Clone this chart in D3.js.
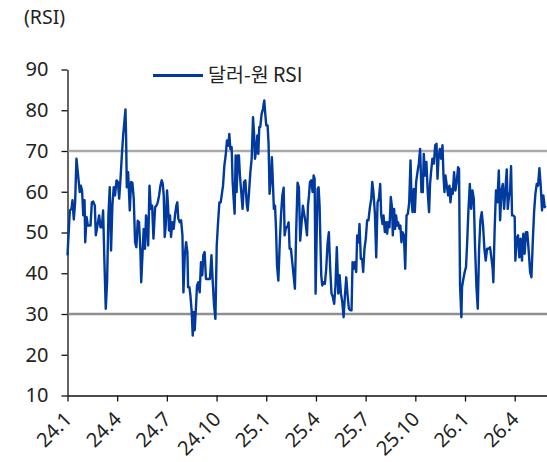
<!DOCTYPE html>
<head>
  <meta charset="utf-8">
  <title>달러-원 RSI</title>
  <script src="https://d3js.org/d3.v7.min.js"></script>
  <style>
    body { margin: 0; background: #fff; }
    svg text { font-family: "Noto Sans", "Noto Sans CJK KR", sans-serif; fill: #222; }
  </style>
</head>
<body>
<svg width="547" height="462"></svg>
<script>
// months since 2024-01, RSI
var month = [
  0, 0.14, 0.24, 0.30, 0.38, 0.46, 0.54, 0.64, 0.74, 0.80, 0.88, 0.95, 1.03, 1.07, 1.15, 1.23, 1.31, 1.39, 1.47, 1.55,
  1.65, 1.71, 1.79, 1.91, 1.99, 2.07, 2.15, 2.23, 2.31, 2.39, 2.47, 2.55, 2.63, 2.71, 2.79, 2.87, 2.96, 3.04, 3.12, 3.20,
  3.28, 3.36, 3.50, 3.54, 3.58, 3.66, 3.76, 3.84, 3.92, 4.00, 4.08, 4.16, 4.24, 4.32, 4.40, 4.45,
  4.60, 4.68, 4.74, 4.81, 4.87, 4.95, 5.03, 5.11, 5.19, 5.29, 5.37, 5.45, 5.53, 5.61, 5.69, 5.75, 5.81, 5.87, 5.93, 6.01,
  6.07, 6.13, 6.19, 6.25, 6.33, 6.41, 6.49, 6.57, 6.63, 6.69, 6.78, 6.86, 6.94, 7.00, 7.08, 7.16, 7.24, 7.28, 7.36, 7.42,
  7.50, 7.56, 7.62, 7.68, 7.74, 7.82, 7.90, 7.98, 8.06, 8.14, 8.20, 8.28, 8.36, 8.42, 8.52, 8.60, 8.69, 8.77, 8.85, 8.93,
  9.01, 9.09, 9.17, 9.25,
  9.39, 9.47, 9.55, 9.63, 9.71, 9.77, 9.83, 9.91, 9.97, 10.03, 10.09, 10.15, 10.21, 10.29, 10.35, 10.41, 10.49, 10.57, 10.66, 10.74,
  10.82, 10.88, 10.96, 11.04, 11.12, 11.20, 11.26, 11.32, 11.40, 11.46, 11.52, 11.58, 11.64, 11.72, 11.80, 11.88, 11.94, 12.00, 12.08, 12.14,
  12.20, 12.28, 12.34, 12.40, 12.46, 12.53, 12.59, 12.65, 12.73, 12.81, 12.89, 12.97, 13.05, 13.11, 13.19, 13.27, 13.35, 13.41, 13.49, 13.57,
  13.65, 13.73, 13.81, 13.89, 13.97, 14.05, 14.13, 14.21,
  14.37, 14.46, 14.52, 14.58, 14.64, 14.72, 14.80, 14.86, 14.92, 14.98, 15.04, 15.10, 15.16, 15.22, 15.28, 15.32, 15.38, 15.46, 15.54, 15.62,
  15.70, 15.78, 15.86, 15.94, 16.02, 16.10, 16.18, 16.26, 16.35, 16.43, 16.51, 16.59, 16.67, 16.75, 16.83, 16.91, 16.99, 17.07, 17.15, 17.21,
  17.27, 17.35, 17.43, 17.49, 17.57, 17.63, 17.71, 17.79, 17.85, 17.93, 18.01, 18.09, 18.17, 18.26, 18.34, 18.40, 18.47, 18.56, 18.64, 18.72,
  18.80, 18.88,
  18.94, 19.02, 19.08, 19.16, 19.24, 19.30, 19.36, 19.44, 19.52, 19.60, 19.64, 19.72, 19.78, 19.84, 19.90, 19.96, 20.04, 20.10, 20.16, 20.22,
  20.31, 20.39, 20.47, 20.55, 20.63, 20.71, 20.77, 20.83, 20.91, 20.97, 21.05, 21.13, 21.21, 21.29, 21.37, 21.45, 21.51, 21.59, 21.67, 21.75,
  21.83, 21.89, 21.95, 22.03, 22.12, 22.20, 22.28, 22.34, 22.40, 22.48, 22.56, 22.64, 22.70, 22.76, 22.82, 22.90, 22.98, 23.06, 23.12, 23.20,
  23.26, 23.34, 23.42, 23.50, 23.58, 23.64, 23.70, 23.78,
  23.82, 23.90, 23.98, 24.06, 24.13, 24.21, 24.29, 24.37, 24.45, 24.53, 24.61, 24.69, 24.77, 24.85, 24.93, 25.01, 25.09, 25.17, 25.25, 25.33,
  25.43, 25.51, 25.59, 25.67, 25.71, 25.79, 25.87, 25.95, 26.04, 26.12, 26.20, 26.28, 26.36, 26.44, 26.52, 26.58, 26.66, 26.72, 26.78, 26.84,
  26.92, 27.00, 27.04, 27.12, 27.20, 27.28, 27.36, 27.44, 27.52, 27.60, 27.68, 27.76, 27.85, 27.93, 28.01, 28.09, 28.17, 28.25, 28.33, 28.41,
  28.49, 28.57, 28.65, 28.73, 28.81, 28.87
]
var rsi = [
  44.4, 55.4, 55.8, 57.9, 53.2, 57.4, 68.1, 64.0, 59.9, 61.5, 60.3, 54.2, 57.9, 47.6, 53.8, 51.7, 51.7, 51.7, 57.4, 57.6,
  56.6, 49.3, 51.3, 54.2, 51.3, 51.3, 55.4, 42.7, 31.3, 37.8, 54.2, 61.1, 45.6, 56.6, 61.1, 59.1, 62.8, 62.4, 58.3, 63.2,
  68.9, 73.8, 80.2, 73.0, 61.1, 64.8, 55.4, 62.4, 62.2, 58.3, 47.6, 46.4, 52.9, 52.5, 45.6, 37.8,
  50.9, 46.0, 54.2, 52.5, 46.8, 61.5, 55.8, 56.6, 48.5, 56.2, 56.6, 57.4, 59.1, 61.5, 62.8, 62.0, 59.1, 48.9, 51.7, 60.3,
  56.6, 50.5, 54.2, 48.9, 52.5, 50.9, 54.2, 56.6, 57.4, 53.4, 52.5, 53.0, 49.3, 35.3, 44.4, 47.6, 45.2, 36.6, 36.6, 34.6,
  30.5, 24.7, 30.5, 26.0, 30.5, 37.0, 37.8, 35.3, 42.7, 39.5, 44.4, 45.2, 38.6, 38.6, 38.6, 38.6, 44.4, 37.8, 32.1, 28.8,
  46.8, 52.5, 57.4, 57.4,
  61.5, 66.4, 68.9, 72.6, 71.3, 74.2, 70.5, 71.0, 62.4, 58.3, 54.6, 68.9, 59.9, 68.9, 68.9, 64.0, 59.9, 55.8, 62.4, 62.8,
  57.0, 55.4, 59.9, 64.8, 68.1, 78.3, 74.6, 68.1, 70.5, 73.8, 69.3, 75.9, 75.9, 79.1, 80.3, 82.4, 79.1, 76.3, 76.3, 71.8,
  59.5, 63.2, 68.5, 62.4, 55.8, 56.6, 50.9, 41.9, 38.2, 46.8, 54.2, 59.1, 61.0, 49.3, 51.3, 51.3, 52.5, 46.0, 46.0, 42.7,
  39.5, 36.2, 50.9, 62.2, 61.1, 48.0, 52.1, 56.6,
  52.5, 49.3, 56.6, 59.1, 62.4, 62.8, 59.9, 64.0, 63.2, 35.0, 48.5, 60.7, 61.1, 56.6, 46.0, 39.5, 37.0, 37.8, 37.4, 41.1,
  47.2, 50.1, 41.1, 35.0, 34.2, 32.5, 37.0, 46.4, 35.0, 39.5, 35.0, 32.9, 29.2, 34.6, 39.0, 34.6, 31.3, 30.9, 30.9, 42.7,
  41.1, 42.7, 40.3, 49.3, 47.6, 52.1, 43.5, 43.5, 40.3, 46.0, 48.5, 53.0, 53.0, 56.2, 58.3, 62.4, 59.9, 54.6, 43.9, 57.4,
  58.3, 61.9,
  54.2, 52.1, 54.2, 50.1, 52.5, 49.7, 52.5, 51.3, 58.7, 55.8, 49.3, 55.8, 50.9, 54.2, 51.7, 52.5, 50.9, 51.7, 47.6, 50.1,
  49.3, 41.1, 54.2, 54.6, 57.4, 67.7, 58.3, 55.0, 60.7, 55.0, 62.4, 64.8, 66.9, 70.5, 59.9, 59.9, 69.3, 64.0, 67.3, 59.9,
  55.0, 61.9, 64.8, 68.1, 66.9, 71.4, 71.8, 63.2, 68.1, 70.5, 68.1, 71.4, 64.0, 59.9, 64.0, 61.5, 59.1, 61.5, 57.4, 60.7,
  59.5, 64.8, 60.3, 62.4, 66.0, 65.6, 37.0, 29.2,
  36.6, 38.6, 40.3, 41.5, 47.6, 55.8, 61.9, 55.8, 60.3, 58.3, 46.0, 36.6, 31.3, 46.0, 53.0, 55.0, 51.7, 46.0, 43.1, 46.0,
  46.0, 46.4, 43.9, 41.1, 37.8, 50.9, 60.3, 57.4, 65.2, 53.0, 60.3, 61.9, 55.8, 60.7, 65.5, 55.8, 59.1, 59.9, 66.3, 54.2,
  54.2, 53.8, 43.1, 48.5, 49.3, 43.9, 48.5, 43.1, 49.7, 44.8, 50.1, 50.1, 45.2, 40.3, 39.0, 47.6, 55.0, 59.5, 61.9, 61.5,
  65.8, 61.5, 55.4, 59.1, 56.2, 56.6
]
var tickMonths = [0, 3, 6, 9, 12, 15, 18, 21, 24, 27]
var tickLabels = ['24.1', '24.4', '24.7', '24.10', '25.1', '25.4', '25.7', '25.10', '26.1', '26.4']
var yTicks = [10, 20, 30, 40, 50, 60, 70, 80, 90]
var bands = [70, 30]

var svg = d3.select('svg')
var mLeft = 67.5, mRight = 547, mTop = 69.5, mBottom = 395.5

var x = d3.scaleLinear().domain([0, 28.95]).range([mLeft, mRight])
var y = d3.scaleLinear().domain([10, 90]).range([mBottom, mTop])

// y axis
var ya = svg.append('g')
  .attr('transform', 'translate(' + mLeft + ',0)')
  .call(d3.axisLeft(y).tickValues(yTicks).tickSize(6).tickPadding(13).tickSizeOuter(0))
ya.select('.domain').attr('stroke', '#111').attr('stroke-width', 1.3)
ya.selectAll('line').attr('stroke', '#111').attr('stroke-width', 1.3)
ya.selectAll('text').attr('font-size', 20).attr('fill', '#222')
  .style('font-family', '"Noto Sans", sans-serif')

// x axis
var xa = svg.append('g')
  .attr('transform', 'translate(0,' + mBottom + ')')
  .call(d3.axisBottom(x).tickValues(tickMonths).tickSize(6).tickSizeOuter(0)
    .tickFormat(function (d, i) { return tickLabels[i] }))
xa.select('.domain').attr('stroke', '#111').attr('stroke-width', 1.3)
xa.selectAll('line').attr('stroke', '#111').attr('stroke-width', 1.3)
xa.selectAll('text')
  .attr('font-size', 20).attr('fill', '#222')
  .style('font-family', '"Noto Sans", sans-serif')
  .attr('text-anchor', 'end')
  .attr('y', 0).attr('dy', 0)
  .attr('transform', 'translate(5,25) rotate(-45)')

// 70 / 30 lines
svg.selectAll('.band').data(bands).enter().append('line')
  .attr('x1', mLeft + 1).attr('x2', mRight)
  .attr('y1', function (d) { return y(d) }).attr('y2', function (d) { return y(d) })
  .attr('stroke', function (d) { return d == 70 ? '#ababab' : '#8f8f8f' })
  .attr('stroke-width', 2.4)

var line = d3.line()
  .x(function (d, i) { return x(month[i]) })
  .y(function (d) { return y(d) })

svg.append('path')
  .datum(rsi)
  .attr('d', line)
  .attr('fill', 'none')
  .attr('stroke', '#003a9e')
  .attr('stroke-width', 2.4)
  .attr('stroke-linejoin', 'round')

// unit label
svg.append('text').attr('x', 24).attr('y', 24).attr('font-size', 19.5).text('(RSI)')

// legend
svg.append('line').attr('x1', 153).attr('x2', 203).attr('y1', 75.5).attr('y2', 75.5)
  .attr('stroke', '#003a9e').attr('stroke-width', 2.8)
svg.append('text').attr('x', 208).attr('y', 82).attr('font-size', 19.5)
  .style('font-family', '"Noto Sans CJK KR", "Noto Sans", sans-serif')
  .text('달러-원 RSI')
</script>
</body>
